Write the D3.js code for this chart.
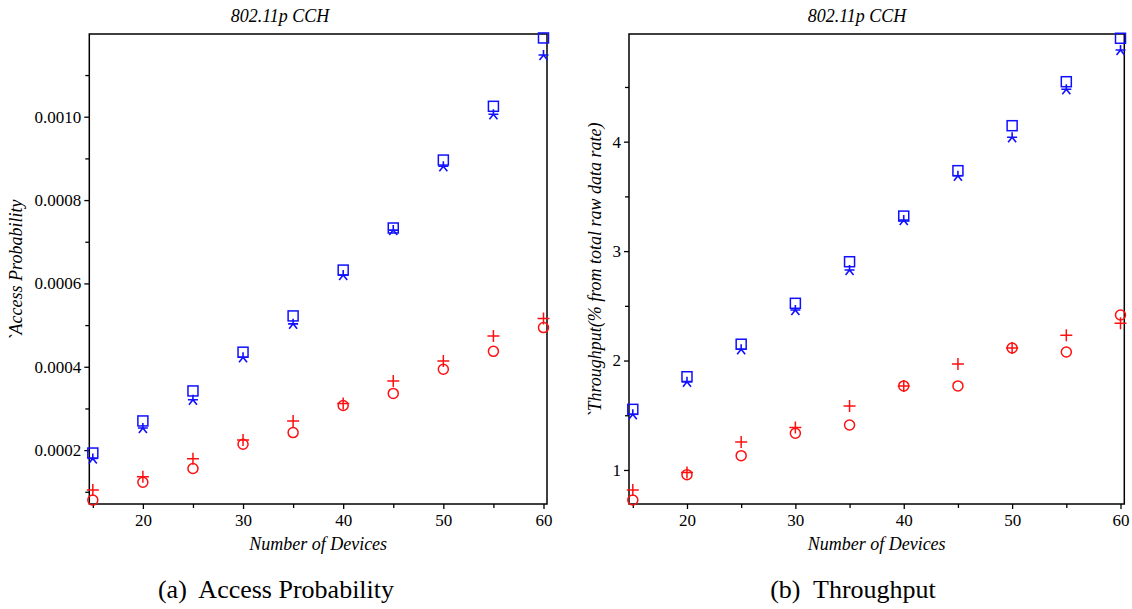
<!DOCTYPE html>
<html>
<head>
<meta charset="utf-8">
<script src="https://cdn.jsdelivr.net/npm/d3@7"></script>
<style>
  html, body { margin: 0; padding: 0; background: #fff; }
  svg { display: block; }
</style>
</head>
<body>
<svg id="chart" width="1132" height="609"></svg>
<script>
// Number of devices on the control channel
const devices = [15, 20, 25, 30, 35, 40, 45, 50, 55, 60];

// Access probability series
const accessSquare = [0.000193, 0.000270, 0.000342, 0.000435, 0.000522, 0.000632, 0.000733, 0.000896, 0.001025, 0.001189];
const accessStar   = [0.000180, 0.000253, 0.000321, 0.000423, 0.000503, 0.000620, 0.000728, 0.000881, 0.001006, 0.001148];
const accessPlus   = [0.000104, 0.000136, 0.000179, 0.000224, 0.000270, 0.000312, 0.000366, 0.000414, 0.000474, 0.000516];
const accessCircle = [0.000080, 0.000123, 0.000156, 0.000214, 0.000242, 0.000307, 0.000336, 0.000394, 0.000437, 0.000494];

// Throughput series (% of total raw data rate)
const thrSquare = [1.554, 1.852, 2.149, 2.523, 2.903, 3.320, 3.735, 4.146, 4.548, 4.945];
const thrStar   = [1.509, 1.807, 2.103, 2.462, 2.827, 3.284, 3.689, 4.040, 4.479, 4.838];
const thrPlus   = [0.817, 0.976, 1.256, 1.387, 1.585, 1.768, 1.969, 2.115, 2.231, 2.340];
const thrCircle = [0.726, 0.957, 1.131, 1.335, 1.411, 1.768, 1.768, 2.115, 2.078, 2.416];

// Axis ticks
const xMajor = [20, 30, 40, 50, 60];
const xMinor = [15, 25, 35, 45, 55];
const accessMajor = [0.0002, 0.0004, 0.0006, 0.0008, 0.0010];
const accessMinor = [0.0001, 0.0003, 0.0005, 0.0007, 0.0009, 0.0011];
const thrMajor = [1, 2, 3, 4];
const thrMinor = [1.5, 2.5, 3.5, 4.5];

const FONT = '"Times New Roman", "Liberation Serif", Times, serif';
const svg = d3.select("#chart").attr("font-family", FONT);
const BLUE = "#1010ff", RED = "#ff1010";

function panel(opt) {
  const g = svg.append("g");
  const x = d3.scaleLinear().domain([14.65, 60.35]).range([opt.left, opt.right]);
  const y = d3.scaleLinear().domain(opt.yDomain).range([opt.bottom, opt.top]);

  // frame
  g.append("rect")
    .attr("x", opt.left).attr("y", opt.top)
    .attr("width", opt.right - opt.left).attr("height", opt.bottom - opt.top)
    .attr("fill", "none").attr("stroke", "#000").attr("stroke-width", 1.5);

  // x axis
  g.append("g").attr("transform", `translate(0,${opt.bottom})`)
    .call(d3.axisBottom(x).tickValues(xMajor).tickSize(5).tickPadding(5).tickFormat(d3.format("d")));
  g.append("g").attr("transform", `translate(0,${opt.bottom})`)
    .call(d3.axisBottom(x).tickValues(xMinor).tickSize(4).tickFormat(""));
  // y axis
  g.append("g").attr("transform", `translate(${opt.left},0)`)
    .call(d3.axisLeft(y).tickValues(opt.yMajor).tickSize(5).tickPadding(3).tickFormat(opt.yFormat));
  g.append("g").attr("transform", `translate(${opt.left},0)`)
    .call(d3.axisLeft(y).tickValues(opt.yMinor).tickSize(4).tickFormat(""));

  g.selectAll("g").attr("font-family", FONT).attr("font-size", null);
  g.selectAll(".domain").remove();
  g.selectAll(".tick line").attr("stroke", "#000").attr("stroke-width", 1.3);
  g.selectAll(".tick text").attr("font-family", FONT).attr("font-size", 17).attr("fill", "#000");

  // titles and labels
  const cx = (opt.left + opt.right) / 2;
  g.append("text").attr("x", opt.titleX).attr("y", 22).attr("text-anchor", "middle")
    .attr("font-style", "italic").attr("font-size", 18).text("802.11p CCH");
  g.append("text").attr("x", cx).attr("y", 550).attr("text-anchor", "middle")
    .attr("font-style", "italic").attr("font-size", 18).text("Number of Devices");
  g.append("text").attr("transform", `translate(${opt.yLabelX},${opt.yLabelY}) rotate(-90)`)
    .attr("text-anchor", "middle")
    .attr("font-style", "italic").attr("font-size", 18).text(opt.yLabel);
  g.append("text").attr("x", opt.capX).attr("y", 598).attr("text-anchor", "middle")
    .attr("font-size", 26).style("white-space", "pre").text(opt.caption);

  // markers
  const pts = arr => devices.map((d, i) => [x(d), y(arr[i])]);

  g.append("g").selectAll("rect").data(pts(opt.sq)).join("rect")
    .attr("x", d => d[0] - 5).attr("y", d => d[1] - 5)
    .attr("width", 10).attr("height", 10)
    .attr("fill", "none").attr("stroke", BLUE).attr("stroke-width", 1.5);

  const star = d3.path();
  // five-armed asterisk
  [[0, -5], [-4, 5], [4, 5]].forEach(p => { star.moveTo(0, 0); star.lineTo(p[0], p[1]); });
  star.moveTo(-5, 0); star.lineTo(5, 0);
  g.append("g").selectAll("path").data(pts(opt.st)).join("path")
    .attr("transform", d => `translate(${d[0]},${d[1]})`)
    .attr("d", star.toString())
    .attr("fill", "none").attr("stroke", BLUE).attr("stroke-width", 1.6);

  g.append("g").selectAll("path").data(pts(opt.pl)).join("path")
    .attr("transform", d => `translate(${d[0]},${d[1]})`)
    .attr("d", "M-6,0H6M0,-6V6")
    .attr("fill", "none").attr("stroke", RED).attr("stroke-width", 1.5);

  g.append("g").selectAll("circle").data(pts(opt.ci)).join("circle")
    .attr("cx", d => d[0]).attr("cy", d => d[1]).attr("r", 5)
    .attr("fill", "none").attr("stroke", RED).attr("stroke-width", 1.5);
}

panel({
  left: 89.3, right: 547, top: 34, bottom: 504,
  yDomain: [0.0000707, 0.0011985],
  yMajor: accessMajor, yMinor: accessMinor,
  yFormat: d3.format(".4f"),
  titleX: 280,
  yLabel: "`Access Probability", yLabelX: 22, yLabelY: 270,
  caption: "(a)  Access Probability", capX: 276,
  sq: accessSquare, st: accessStar, pl: accessPlus, ci: accessCircle
});

panel({
  left: 629, right: 1124.3, top: 34, bottom: 504,
  yDomain: [0.689, 4.984],
  yMajor: thrMajor, yMinor: thrMinor,
  yFormat: d3.format("d"),
  titleX: 857,
  yLabel: "`Throughput(% from total raw data rate)", yLabelX: 601, yLabelY: 270,
  caption: "(b)  Throughput", capX: 853,
  sq: thrSquare, st: thrStar, pl: thrPlus, ci: thrCircle
});
</script>
</body>
</html>
